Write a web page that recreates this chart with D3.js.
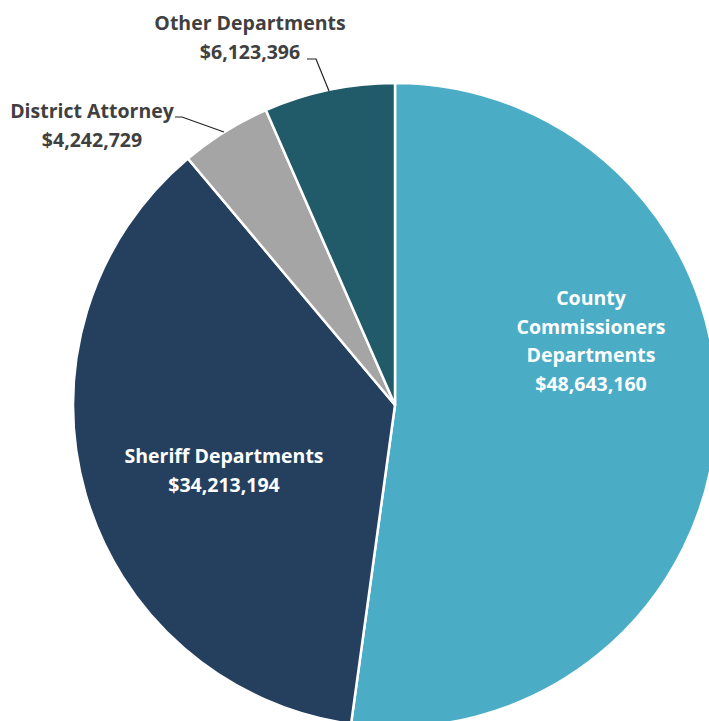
<!DOCTYPE html>
<html><head><meta charset="utf-8">
<script src="https://cdn.jsdelivr.net/npm/d3@7"></script>
<style>body{margin:0;background:#fff;overflow:hidden}svg{display:block}text{font-family:"Open Sans",Lato,sans-serif;font-weight:bold}</style>
</head><body>
<script>
const categories = ["County Commissioners Departments","Sheriff Departments","District Attorney","Other Departments"];
const values = [48643160, 34213194, 4242729, 6123396];
const colors = ["#4BACC6","#253F5F","#A5A5A5","#215A69"];
const labelLines = [["County","Commissioners","Departments"],["Sheriff Departments"],["District Attorney"],["Other Departments"]];

const W=709,H=721,cx=395,cy=405,R=322;
const svg=d3.select("body").append("svg").attr("width",W).attr("height",H);
const g=svg.append("g").attr("transform",`translate(${cx},${cy})`);
const data=categories.map((c,i)=>({c,v:values[i],i}));
const pie=d3.pie().value(d=>d.v).sort(null);
const arcs=pie(data);
const arc=d3.arc().innerRadius(0).outerRadius(R);
g.selectAll("path").data(arcs).join("path").attr("d",arc)
 .attr("fill",d=>colors[d.data.i]).attr("stroke","#fff").attr("stroke-width",2.5).attr("stroke-linejoin","round");
const fmt=v=>"$"+d3.format(",")(v);
const FS=19.5;
// inside labels
const inside=[{i:0,x:196,y:-100},{i:1,x:-171,y:58}];
inside.forEach(o=>{
  const lines=[...labelLines[o.i],fmt(values[o.i])];
  const t=g.append("text").attr("text-anchor","middle").attr("fill","#fff").attr("font-size",FS);
  lines.forEach((l,k)=>t.append("tspan").attr("x",o.x).attr("y",o.y+k*28.7).text(l));
});
// outside labels
const outside=[{i:2,x:-303,y:-287,line:[[175,117],[182,117],[224,132]]},{i:3,x:-145,y:-375,line:[[307,59],[316,59],[329,91]]}];
outside.forEach(o=>{
  const t=g.append("text").attr("text-anchor","middle").attr("fill","#404040").attr("font-size",FS);
  [labelLines[o.i][0],fmt(values[o.i])].forEach((l,k)=>t.append("tspan").attr("x",o.x).attr("y",o.y+k*29).text(l));
  svg.append("path").attr("d",d3.line()(o.line)).attr("fill","none").attr("stroke","#222").attr("stroke-width",1.2);
});
</script>
</body></html>
